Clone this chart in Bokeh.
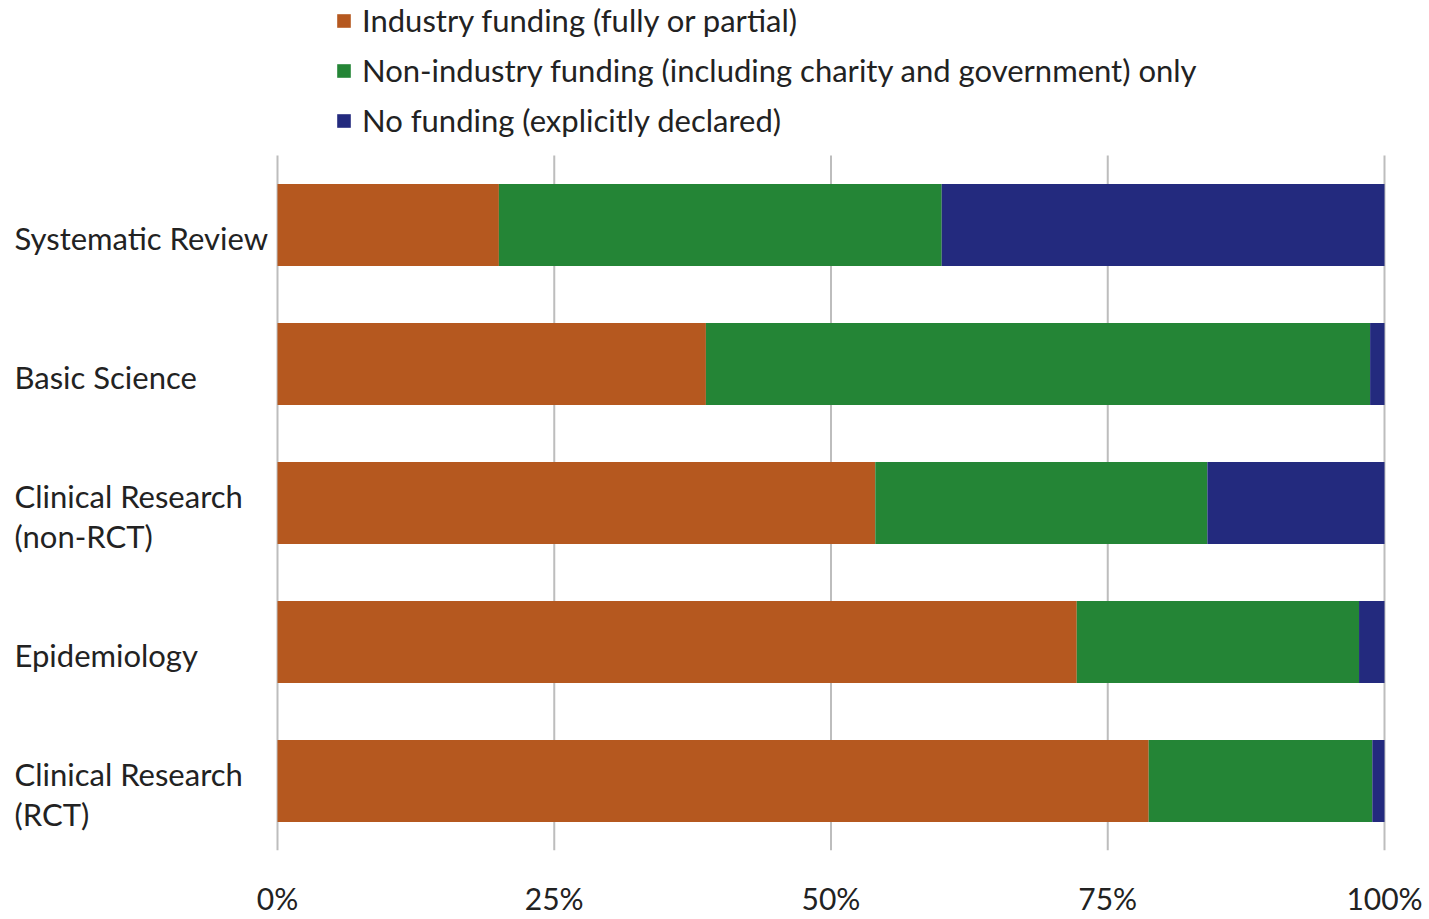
from bokeh.plotting import figure
from bokeh.models import ColumnDataSource, Range1d, FixedTicker, Legend, LegendItem
from bokeh.core.properties import value
from bokeh.embed import file_html
from bokeh.resources import INLINE

categories = ["Systematic Review", "Basic Science", "Clinical Research\n(non-RCT)",
              "Epidemiology", "Clinical Research\n(RCT)"]
industry = [20.0, 38.7, 54.0, 72.2, 78.7]
non_industry = [40.0, 60.0, 30.0, 25.5, 20.2]
no_funding = [40.0, 1.3, 16.0, 2.3, 1.1]
series_names = ["Industry funding (fully or partial)",
                "Non-industry funding (including charity and government) only",
                "No funding (explicitly declared)"]
colors = ["#B5581F", "#248536", "#232A7E"]
tick_values = [0, 25, 50, 75, 100]
tick_labels = ["0%", "25%", "50%", "75%", "100%"]

FONT = "Lato"
TEXT = "#222222"
W, H = 1429, 919
BAND_TOP_PX, BAND_BOTTOM_PX = 155, 850   # vertical extent of the bar band
X0_PX, X100_PX = 277, 1384               # where 0% and 100% sit
BOTTOM = H - BAND_BOTTOM_PX              # space for the x tick labels
FRAME_H = BAND_BOTTOM_PX
n = len(categories)

px_per_x = (X100_PX - X0_PX) / 100.0
px_per_y = (BAND_BOTTOM_PX - BAND_TOP_PX) / n
x_start = -X0_PX / px_per_x
x_end = 100 + (W - X100_PX) / px_per_x
y_top = -0.5 - BAND_TOP_PX / px_per_y
y_bottom = n - 0.5

source = ColumnDataSource(dict(
    y=list(range(n)),
    industry=industry, non_industry=non_industry, no_funding=no_funding,
))

p = figure(width=W, height=H, output_backend="svg", toolbar_location=None,
           x_range=Range1d(x_start, x_end), y_range=Range1d(y_bottom, y_top),
           min_border_left=0, min_border_right=0, min_border_top=0, min_border_bottom=BOTTOM)
p.outline_line_color = None
p.background_fill_color = "white"
p.grid.visible = False
p.yaxis.visible = False

# vertical gridlines over the bar band only
p.segment(x0=tick_values, x1=tick_values, y0=[-0.5] * len(tick_values),
          y1=[n - 0.5] * len(tick_values), line_color="#BDBDBD", line_width=2)

renderers = p.hbar_stack(["industry", "non_industry", "no_funding"], y="y", height=0.59,
                         color=colors, line_color=None, source=source)

xa = p.xaxis[0]
xa.ticker = FixedTicker(ticks=tick_values)
xa.major_label_overrides = {v: l for v, l in zip(tick_values, tick_labels)}
xa.axis_line_color = None
xa.major_tick_line_color = None
xa.minor_tick_line_color = None
xa.major_tick_out = 0
xa.major_tick_in = 0
xa.minor_tick_out = 0
xa.minor_tick_in = 0
xa.major_label_standoff = 29
xa.major_label_text_font = FONT
xa.major_label_text_font_size = "30px"
xa.major_label_text_color = TEXT

# category labels, left aligned near the figure's left edge
label_x = x_start + 14 / px_per_x
p.text(x=[label_x] * n, y=list(range(n)), text=categories,
       text_align="left", text_baseline="middle", y_offset=13,
       text_font=value(FONT), text_font_size="31px", text_color=TEXT,
       text_line_height=1.05)

legend = Legend(items=[LegendItem(label=nm, renderers=[r]) for nm, r in zip(series_names, renderers)],
                location=(335, FRAME_H - 139),
                orientation="vertical", border_line_color=None, background_fill_alpha=0,
                padding=0, margin=0, spacing=12, glyph_width=17, glyph_height=17,
                label_height=38, label_standoff=10,
                label_text_font=FONT, label_text_font_size="31px", label_text_color=TEXT)
p.add_layout(legend)

open("out.html", "w").write(file_html(p, INLINE))
